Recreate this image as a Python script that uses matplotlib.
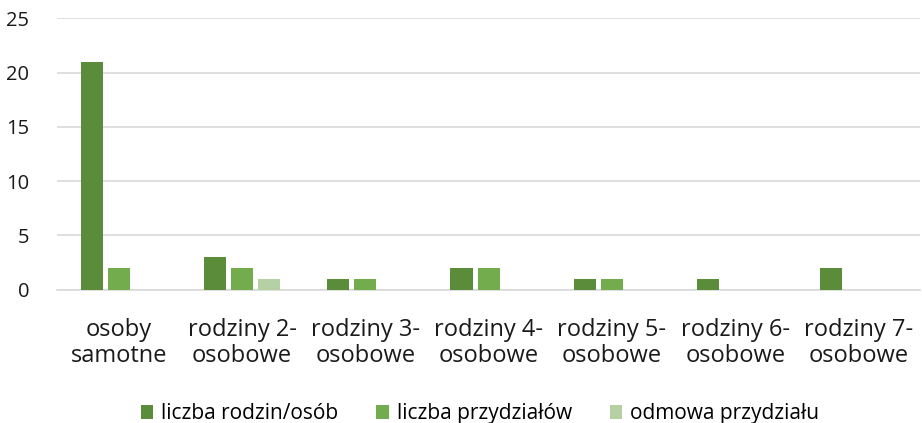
import numpy as np
import matplotlib.pyplot as plt

plt.rcParams['font.family'] = ['Open Sans', 'DejaVu Sans']

categories = ['osoby\nsamotne', 'rodziny 2-\nosobowe', 'rodziny 3-\nosobowe', 'rodziny 4-\nosobowe',
              'rodziny 5-\nosobowe', 'rodziny 6-\nosobowe', 'rodziny 7-\nosobowe']
liczba_rodzin = [21, 3, 1, 2, 1, 1, 2]
liczba_przydzialow = [2, 2, 1, 2, 1, 0, 0]
odmowa = [0, 1, 0, 0, 0, 0, 0]

series = [('liczba rodzin/osób', liczba_rodzin, '#5B8C3A'),
          ('liczba przydziałów', liczba_przydzialow, '#72AC4D'),
          ('odmowa przydziału', odmowa, '#B5D0A2')]

fig, ax = plt.subplots(figsize=(9.22, 4.23), dpi=100)
fig.subplots_adjust(left=0.062, right=0.998, top=0.957, bottom=0.315)

x = np.arange(len(categories))
w = 0.18
off = 0.22
for i, (name, vals, col) in enumerate(series):
    ax.bar(x + (i - 1) * off, vals, w, color=col, label=name, zorder=3)

ax.set_xlim(-0.5, len(categories) - 0.5)
ax.set_ylim(0, 25)
ax.set_yticks(range(0, 26, 5))
ax.yaxis.grid(True, color='#D9D9D9', linewidth=1.2, zorder=0)
for s in ['top', 'right', 'left']:
    ax.spines[s].set_visible(False)
ax.spines['bottom'].set_color('#D9D9D9')
ax.spines['bottom'].set_linewidth(1.2)
ax.set_xticks(x)
ax.set_xticklabels(categories, fontsize=17, color='#1a1a1a', linespacing=1.12)
ax.tick_params(axis='x', length=0, pad=20)
ax.tick_params(axis='y', length=0, labelsize=14.5, labelcolor='#1a1a1a', pad=20)

ax.legend(loc='lower center', bbox_to_anchor=(0.49, -0.565), ncol=3, frameon=False,
          fontsize=15, handlelength=0.6, handleheight=0.6, handletextpad=0.4, columnspacing=1.8)

plt.savefig('out.png', dpi=100)
